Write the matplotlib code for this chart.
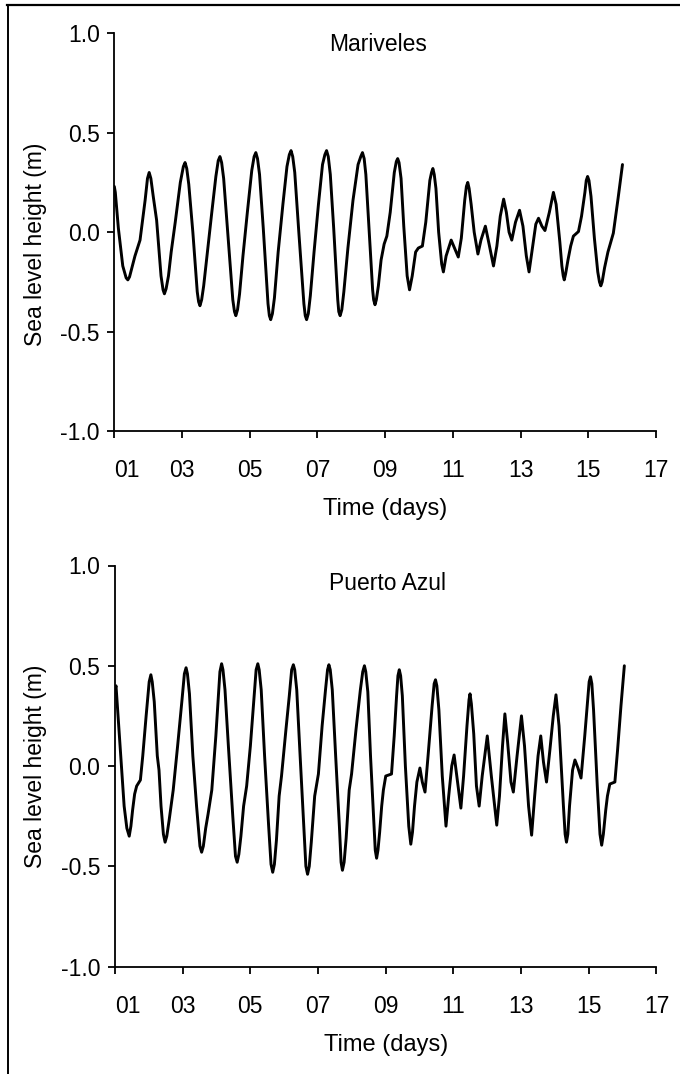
import matplotlib
matplotlib.use("Agg")
import matplotlib.pyplot as plt
from matplotlib.lines import Line2D

plt.rcParams['font.family'] = ['Liberation Sans', 'DejaVu Sans']

# ---------------- data ----------------
titles = ["Mariveles", "Puerto Azul"]
x_ticks = [1, 3, 5, 7, 9, 11, 13, 15, 17]
x_tick_labels = ["01", "03", "05", "07", "09", "11", "13", "15", "17"]
y_ticks = [-1.0, -0.5, 0.0, 0.5, 1.0]
y_tick_labels = ["-1.0", "-0.5", "0.0", "0.5", "1.0"]
x_label = "Time (days)"
y_label = "Sea level height (m)"

# (day, sea level height in m)
mariveles_points = [
    (1.00, 0.23), (1.03, 0.20), (1.12, 0.02), (1.25, -0.17), (1.35, -0.23), (1.40, -0.24),
    (1.45, -0.225), (1.52, -0.18), (1.61, -0.12), (1.76, -0.04), (1.91, 0.16), (1.98, 0.27),
    (2.03, 0.30), (2.08, 0.27), (2.15, 0.18), (2.25, 0.06), (2.38, -0.22), (2.44, -0.29),
    (2.48, -0.31), (2.53, -0.285), (2.60, -0.22), (2.68, -0.10), (2.80, 0.05), (2.95, 0.25),
    (3.04, 0.33), (3.09, 0.35), (3.14, 0.32), (3.20, 0.24), (3.32, 0.00), (3.45, -0.30),
    (3.49, -0.35), (3.53, -0.37), (3.58, -0.34), (3.64, -0.27), (3.75, -0.10), (3.88, 0.10),
    (4.00, 0.28), (4.07, 0.36), (4.12, 0.38), (4.17, 0.35), (4.23, 0.27), (4.35, 0.00),
    (4.50, -0.34), (4.55, -0.40), (4.59, -0.42), (4.64, -0.39), (4.70, -0.31), (4.80, -0.12),
    (4.93, 0.10), (5.06, 0.31), (5.13, 0.38), (5.18, 0.40), (5.23, 0.37), (5.29, 0.29),
    (5.40, 0.02), (5.54, -0.36), (5.58, -0.42), (5.62, -0.44), (5.67, -0.41), (5.73, -0.33),
    (5.84, -0.10), (5.98, 0.14), (6.10, 0.33), (6.17, 0.39), (6.22, 0.41), (6.27, 0.38),
    (6.33, 0.30), (6.45, 0.00), (6.60, -0.36), (6.64, -0.42), (6.68, -0.44), (6.73, -0.41),
    (6.79, -0.32), (6.90, -0.10), (7.03, 0.14), (7.15, 0.34), (7.22, 0.39), (7.27, 0.41),
    (7.32, 0.38), (7.38, 0.29), (7.48, 0.02), (7.60, -0.34), (7.63, -0.40), (7.67, -0.42),
    (7.72, -0.39), (7.78, -0.30), (7.90, -0.08), (8.05, 0.16), (8.20, 0.34), (8.28, 0.38),
    (8.33, 0.40), (8.38, 0.37), (8.43, 0.29), (8.52, 0.03), (8.63, -0.29), (8.66, -0.34),
    (8.70, -0.365), (8.74, -0.34), (8.80, -0.27), (8.88, -0.14), (8.97, -0.06), (9.05, -0.02),
    (9.15, 0.10), (9.27, 0.30), (9.33, 0.355), (9.37, 0.37), (9.41, 0.35), (9.47, 0.27),
    (9.55, 0.03), (9.65, -0.22), (9.72, -0.29), (9.80, -0.22), (9.90, -0.10), (9.98, -0.08),
    (10.10, -0.07), (10.20, 0.05), (10.32, 0.26), (10.37, 0.30), (10.41, 0.32), (10.45, 0.29),
    (10.50, 0.22), (10.58, 0.00), (10.67, -0.16), (10.72, -0.20), (10.80, -0.12), (10.95, -0.04),
    (11.05, -0.08), (11.16, -0.125), (11.25, -0.03), (11.35, 0.16), (11.40, 0.23), (11.44, 0.25),
    (11.48, 0.22), (11.54, 0.14), (11.63, 0.00), (11.74, -0.11), (11.83, -0.04), (11.96, 0.03),
    (12.07, -0.06), (12.20, -0.17), (12.30, -0.07), (12.40, 0.08), (12.50, 0.166), (12.58, 0.10),
    (12.66, 0.00), (12.74, -0.04), (12.85, 0.05), (12.97, 0.11), (13.07, 0.03), (13.17, -0.12),
    (13.25, -0.20), (13.35, -0.08), (13.45, 0.04), (13.53, 0.07), (13.63, 0.03), (13.72, 0.008),
    (13.85, 0.10), (13.97, 0.20), (14.05, 0.14), (14.16, -0.05), (14.22, -0.17), (14.26, -0.22),
    (14.29, -0.24), (14.33, -0.21), (14.40, -0.14), (14.48, -0.07), (14.56, -0.02), (14.71, 0.003),
    (14.80, 0.08), (14.90, 0.20), (14.94, 0.26), (14.98, 0.28), (15.02, 0.26), (15.08, 0.18),
    (15.18, -0.03), (15.28, -0.20), (15.33, -0.25), (15.37, -0.27), (15.41, -0.25), (15.48, -0.18),
    (15.58, -0.10), (15.74, -0.005), (15.88, 0.17), (16.01, 0.34),
]

puerto_points = [
    (1.00, 0.38), (1.03, 0.40), (1.07, 0.30), (1.17, 0.05), (1.27, -0.20), (1.35, -0.31),
    (1.42, -0.35), (1.47, -0.30), (1.52, -0.22), (1.58, -0.14), (1.64, -0.10), (1.75, -0.07),
    (1.82, 0.05), (1.92, 0.25), (2.01, 0.42), (2.06, 0.455), (2.10, 0.42), (2.16, 0.32),
    (2.25, 0.05), (2.30, -0.02), (2.36, -0.20), (2.43, -0.34), (2.48, -0.38), (2.53, -0.35),
    (2.60, -0.27), (2.72, -0.12), (2.85, 0.10), (2.98, 0.33), (3.05, 0.46), (3.10, 0.49),
    (3.14, 0.46), (3.20, 0.36), (3.30, 0.05), (3.41, -0.20), (3.51, -0.40), (3.56, -0.43),
    (3.61, -0.40), (3.68, -0.31), (3.75, -0.24), (3.86, -0.12), (3.98, 0.15), (4.10, 0.47),
    (4.15, 0.51), (4.19, 0.48), (4.25, 0.38), (4.35, 0.10), (4.48, -0.25), (4.56, -0.45),
    (4.61, -0.48), (4.66, -0.44), (4.72, -0.35), (4.80, -0.20), (4.89, -0.10), (5.00, 0.10),
    (5.10, 0.32), (5.17, 0.48), (5.22, 0.51), (5.26, 0.48), (5.32, 0.38), (5.42, 0.05),
    (5.54, -0.30), (5.61, -0.49), (5.66, -0.53), (5.71, -0.49), (5.77, -0.37), (5.85, -0.15),
    (5.92, -0.05), (6.05, 0.18), (6.15, 0.35), (6.22, 0.48), (6.27, 0.505), (6.31, 0.48),
    (6.37, 0.38), (6.47, 0.05), (6.58, -0.30), (6.64, -0.50), (6.69, -0.54), (6.74, -0.50),
    (6.80, -0.38), (6.90, -0.15), (7.01, -0.04), (7.12, 0.20), (7.22, 0.38), (7.28, 0.48),
    (7.32, 0.505), (7.36, 0.48), (7.42, 0.38), (7.52, 0.05), (7.63, -0.30), (7.68, -0.48),
    (7.72, -0.52), (7.77, -0.48), (7.83, -0.36), (7.92, -0.12), (7.99, -0.04), (8.12, 0.18),
    (8.25, 0.38), (8.32, 0.47), (8.37, 0.50), (8.41, 0.47), (8.47, 0.37), (8.55, 0.05),
    (8.65, -0.28), (8.69, -0.42), (8.73, -0.46), (8.77, -0.42), (8.82, -0.33), (8.88, -0.20),
    (8.93, -0.12), (9.00, -0.05), (9.17, -0.04), (9.25, 0.15), (9.32, 0.35), (9.36, 0.45),
    (9.40, 0.48), (9.44, 0.45), (9.49, 0.35), (9.58, 0.00), (9.68, -0.30), (9.74, -0.39),
    (9.79, -0.33), (9.85, -0.20), (9.92, -0.08), (10.01, -0.01), (10.08, -0.08), (10.16, -0.13),
    (10.25, 0.05), (10.37, 0.30), (10.43, 0.41), (10.47, 0.43), (10.51, 0.40), (10.57, 0.28),
    (10.67, -0.05), (10.78, -0.30), (10.86, -0.15), (10.95, 0.00), (11.02, 0.055), (11.10, -0.05),
    (11.22, -0.21), (11.30, -0.05), (11.40, 0.20), (11.46, 0.33), (11.49, 0.36), (11.53, 0.31),
    (11.60, 0.16), (11.68, -0.10), (11.76, -0.20), (11.85, -0.05), (12.00, 0.15), (12.12, -0.05),
    (12.28, -0.295), (12.36, -0.15), (12.45, 0.10), (12.52, 0.26), (12.60, 0.12), (12.70, -0.08),
    (12.77, -0.13), (12.88, 0.05), (13.01, 0.25), (13.10, 0.10), (13.22, -0.20), (13.31, -0.345),
    (13.40, -0.15), (13.50, 0.05), (13.58, 0.15), (13.66, 0.02), (13.75, -0.08), (13.85, 0.08),
    (13.95, 0.25), (14.03, 0.355), (14.12, 0.20), (14.25, -0.20), (14.30, -0.34), (14.34, -0.38),
    (14.38, -0.34), (14.43, -0.20), (14.52, -0.02), (14.59, 0.03), (14.68, -0.01), (14.77, -0.06),
    (14.88, 0.15), (14.96, 0.32), (15.01, 0.42), (15.05, 0.445), (15.09, 0.41), (15.14, 0.28),
    (15.25, -0.10), (15.33, -0.34), (15.38, -0.395), (15.43, -0.34), (15.50, -0.22), (15.55, -0.15),
    (15.62, -0.09), (15.77, -0.08), (15.85, 0.08), (15.95, 0.30), (16.05, 0.50),
]

mariveles_day = [p[0] for p in mariveles_points]
mariveles_height = [p[1] for p in mariveles_points]
puerto_day = [p[0] for p in puerto_points]
puerto_height = [p[1] for p in puerto_points]

# ---------------- figure ----------------
W, H = 680, 1074
fig = plt.figure(figsize=(W / 100, H / 100), dpi=100)

def frac(left_px, top_px, right_px, bottom_px):
    return [left_px / W, 1 - bottom_px / H, (right_px - left_px) / W, (bottom_px - top_px) / H]

panels = [
    dict(rect=frac(114.3, 33.3, 656, 431), title=titles[0], day=mariveles_day,
         h=mariveles_height, title_xy=(0.487, 0.972), ylab_y=0.47),
    dict(rect=frac(115, 565.5, 656.5, 966.5), title=titles[1], day=puerto_day,
         h=puerto_height, title_xy=(0.503, 0.955), ylab_y=0.5),
]

FS = 16.5
for p in panels:
    ax = fig.add_axes(p["rect"])
    ax.plot(p["day"], p["h"], color="black", lw=2.1, solid_joinstyle="round",
            solid_capstyle="round")
    ax.set_xlim(1, 17)
    ax.set_ylim(-1, 1)
    for s in ["top", "right"]:
        ax.spines[s].set_visible(False)
    for s in ["left", "bottom"]:
        ax.spines[s].set_linewidth(1.3)
    ax.set_xticks(x_ticks)
    ax.set_xticklabels(x_tick_labels, fontsize=FS)
    ax.set_yticks(y_ticks)
    ax.set_yticklabels(y_tick_labels, fontsize=FS)
    ax.tick_params(axis="x", direction="out", length=5, width=1.3, pad=15.5)
    ax.tick_params(axis="y", direction="out", length=5, width=1.3, pad=5.5)
    ax.get_xticklabels()[0].set_ha("left")
    ax.set_xlabel(x_label, fontsize=FS + 0.5)
    ax.xaxis.label.set_va("center")
    ax.xaxis.set_label_coords(0.5, -0.197)
    ax.set_ylabel(y_label, fontsize=FS)
    ax.yaxis.label.set_va("center")
    ax.yaxis.set_label_coords(-0.146, p["ylab_y"])
    ax.text(p["title_xy"][0], p["title_xy"][1], p["title"], transform=ax.transAxes,
            ha="center", va="center", fontsize=FS)

# frame lines of the scanned figure (top and left)
fig.add_artist(Line2D([7 / W, 1.0], [1 - 5 / H, 1 - 5 / H], color="black", lw=1.6,
                      transform=fig.transFigure))
fig.add_artist(Line2D([8 / W, 8 / W], [0, 1 - 5 / H], color="black", lw=1.4,
                      transform=fig.transFigure))

fig.savefig("out.png", dpi=100)
